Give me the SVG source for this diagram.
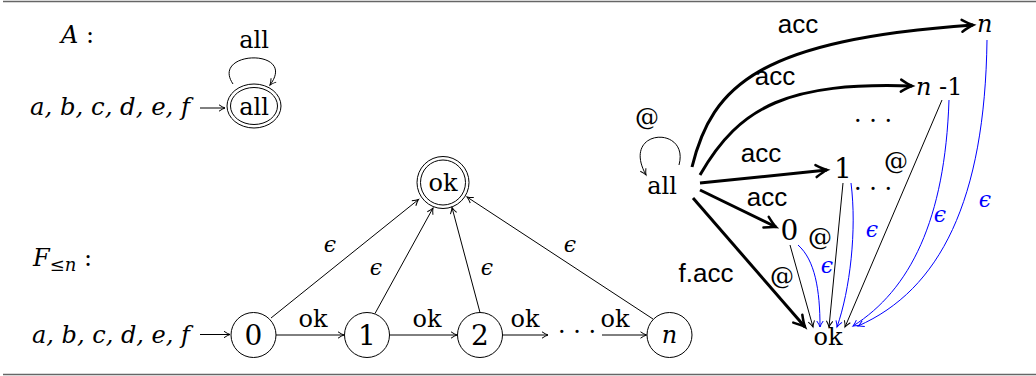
<svg xmlns="http://www.w3.org/2000/svg" width="1036" height="376" viewBox="0 0 1036 376">
<style>
.m{font-family:'DejaVu Serif',serif;font-size:24px;fill:#000}
.d{font-size:28px}
.i{font-style:italic}
.c{text-anchor:middle}
.s{font-family:'Liberation Sans',Arial,sans-serif;font-size:26px;fill:#000}
.e{font-family:'DejaVu Serif',serif;font-style:italic;font-size:22px;fill:#000}
.bt{fill:#0000ff}
.ln{fill:none;stroke:#000;stroke-width:1}
.th{fill:none;stroke:#000;stroke-width:3}
.bl{fill:none;stroke:#0000ff;stroke-width:1}
.nd{fill:#fff;stroke:#000;stroke-width:1}
.rule{stroke:#666;stroke-width:1.5}
</style>
<defs>
<marker id="a" markerUnits="userSpaceOnUse" orient="auto" refX="0" refY="0" markerWidth="12" markerHeight="12" overflow="visible"><path d="M-6,-3.2 Q-2.5,-0.8 0,0 Q-2.5,0.8 -6,3.2" fill="none" stroke="#000" stroke-width="1"/></marker>
<marker id="ab" markerUnits="userSpaceOnUse" orient="auto" refX="0" refY="0" markerWidth="12" markerHeight="12" overflow="visible"><path d="M-6,-3.2 Q-2.5,-0.8 0,0 Q-2.5,0.8 -6,3.2" fill="none" stroke="#0000ff" stroke-width="1"/></marker>
<marker id="at" markerUnits="userSpaceOnUse" orient="auto" refX="0" refY="0" markerWidth="20" markerHeight="20" overflow="visible"><path d="M-11,-6 Q-4,-1.5 0,0 Q-4,1.5 -11,6" fill="none" stroke="#000" stroke-width="2.5" stroke-linecap="round"/></marker>
</defs>

<line class="rule" x1="3" y1="1.5" x2="1036" y2="1.5"/>
<line class="rule" x1="3" y1="374.5" x2="1036" y2="374.5"/>

<!-- Left top: A -->
<g id="titleA">
<text class="m" x="61" y="43" font-size="26"><tspan class="i">A</tspan> :</text>
</g>
<g id="inputA">
<text class="m i" x="30" y="115" textLength="160" lengthAdjust="spacingAndGlyphs">a, b, c, d, e, f</text>
</g>
<g id="nodeAll">
<ellipse class="nd" cx="254" cy="106" rx="27" ry="22"/>
<ellipse class="nd" cx="254" cy="106" rx="23.5" ry="18.5"/>
<text class="m c" x="254" y="115">all</text>
</g>

<!-- Left bottom: F<=n -->
<g id="titleF">
<text class="m" x="33" y="266" font-size="26"><tspan class="i">F</tspan><tspan font-size="18" dy="5">≤</tspan><tspan class="i" font-size="18">n</tspan><tspan dy="-5"> :</tspan></text>
</g>
<g id="inputF">
<text class="m i" x="32" y="343" textLength="158" lengthAdjust="spacingAndGlyphs">a, b, c, d, e, f</text>
</g>
<g id="nodeOk">
<circle class="nd" cx="443" cy="182.5" r="26"/>
<circle class="nd" cx="443" cy="182.5" r="22.5"/>
<text class="m c" x="443" y="191">ok</text>
</g>
<g id="node0">
<circle class="nd" cx="253.5" cy="335" r="22.5"/>
<text class="m d c" x="253.5" y="345">0</text>
</g>
<g id="node1">
<circle class="nd" cx="367" cy="335" r="22.5"/>
<text class="m d c" x="367" y="345">1</text>
</g>
<g id="node2">
<circle class="nd" cx="480" cy="335" r="22.5"/>
<text class="m d c" x="480" y="345">2</text>
</g>
<g id="nodeDots">
<text class="m c" x="577" y="340">· · ·</text>
</g>
<g id="nodeN">
<circle class="nd" cx="669.5" cy="335" r="22.5"/>
<text class="m c i" x="669.5" y="343" font-size="26">n</text>
</g>

<!-- Right part -->
<g id="rAll"><text class="m c" x="662" y="194">all</text></g>
<g id="rN"><text class="m i" x="977" y="32" font-size="26">n</text></g>
<g id="rN1"><text class="m" x="916" y="95" font-size="26"><tspan class="i">n</tspan> -1</text></g>
<g id="rDots1"><text class="m c" x="873" y="129">· · ·</text></g>
<g id="r1"><text class="m d c" x="843" y="178">1</text></g>
<g id="rDots2"><text class="m c" x="873" y="197">· · ·</text></g>
<g id="r0"><text class="m d c" x="789.5" y="240">0</text></g>
<g id="rOk"><text class="m c" x="828" y="345">ok</text></g>

<g id="connectors">
<!-- A -->
<line class="ln" x1="200" y1="108" x2="225" y2="108" marker-end="url(#a)"/>
<path class="ln" d="M233 84 C210 50, 298 48, 270 85" marker-end="url(#a)"/>
<text class="m c" x="254" y="48">all</text>

<!-- F bottom row -->
<line class="ln" x1="200" y1="334.5" x2="230" y2="334.5" marker-end="url(#a)"/>
<line class="ln" x1="276" y1="335" x2="344" y2="335" marker-end="url(#a)"/>
<line class="ln" x1="389.5" y1="335" x2="457" y2="335" marker-end="url(#a)"/>
<line class="ln" x1="502.5" y1="335" x2="548" y2="335" marker-end="url(#a)"/>
<line class="ln" x1="602" y1="335" x2="646.5" y2="335" marker-end="url(#a)"/>
<text class="m c" x="313" y="327">ok</text>
<text class="m c" x="427" y="327">ok</text>
<text class="m c" x="525" y="327">ok</text>
<text class="m c" x="615" y="327">ok</text>

<!-- epsilon edges to ok -->
<line class="ln" x1="271" y1="318" x2="418.5" y2="199.5" marker-end="url(#a)"/>
<line class="ln" x1="375" y1="313.5" x2="433" y2="208" marker-end="url(#a)"/>
<line class="ln" x1="480" y1="312.5" x2="452" y2="207.5" marker-end="url(#a)"/>
<line class="ln" x1="653" y1="319" x2="467" y2="197" marker-end="url(#a)"/>
<text class="e c" x="330" y="252">ϵ</text>
<text class="e c" x="376" y="275">ϵ</text>
<text class="e c" x="487" y="275">ϵ</text>
<text class="e c" x="570" y="252">ϵ</text>

<!-- right: loop on all -->
<path class="ln" d="M679 165 C690 125, 620 128, 646 175" marker-end="url(#a)"/>
<text class="m c" x="647" y="125" font-size="21">@</text>

<!-- thick acc edges -->
<path class="th" d="M692 167 C712 85, 760 40, 973 25" marker-end="url(#at)"/>
<path class="th" d="M700 175 C740 105, 790 82, 912 86" marker-end="url(#at)"/>
<line class="th" x1="700" y1="183" x2="827" y2="170" marker-end="url(#at)"/>
<line class="th" x1="700" y1="190" x2="776" y2="227" marker-end="url(#at)"/>
<line class="th" x1="693" y1="198" x2="805" y2="327" marker-end="url(#at)"/>
<text class="s c" x="798" y="33">acc</text>
<text class="s c" x="775" y="85">acc</text>
<text class="s c" x="761" y="162">acc</text>
<text class="s c" x="767" y="206">acc</text>
<text class="s c" x="706" y="282">f.acc</text>

<!-- thin edges into ok -->
<line class="ln" x1="790" y1="245" x2="813" y2="327" marker-end="url(#a)"/>
<path class="bl" d="M798 245 C815 260, 820 290, 820 327" marker-end="url(#ab)"/>
<line class="ln" x1="843" y1="183" x2="829" y2="327" marker-end="url(#a)"/>
<path class="bl" d="M851 183 C857 230, 850 290, 837 327" marker-end="url(#ab)"/>
<line class="ln" x1="942" y1="100" x2="845" y2="327" marker-end="url(#a)"/>
<path class="bl" d="M949 100 C945 220, 910 290, 853 326" marker-end="url(#ab)"/>
<path class="bl" d="M987 40 C985 200, 940 290, 858 326" marker-end="url(#ab)"/>
<text class="m c" x="782" y="284" font-size="21">@</text>
<text class="m c" x="820" y="245" font-size="21">@</text>
<text class="m c" x="896" y="169" font-size="21">@</text>
<text class="e c bt" x="827" y="273">ϵ</text>
<text class="e c bt" x="872" y="237">ϵ</text>
<text class="e c bt" x="940" y="222">ϵ</text>
<text class="e c bt" x="985" y="207">ϵ</text>
</g>
</svg>
